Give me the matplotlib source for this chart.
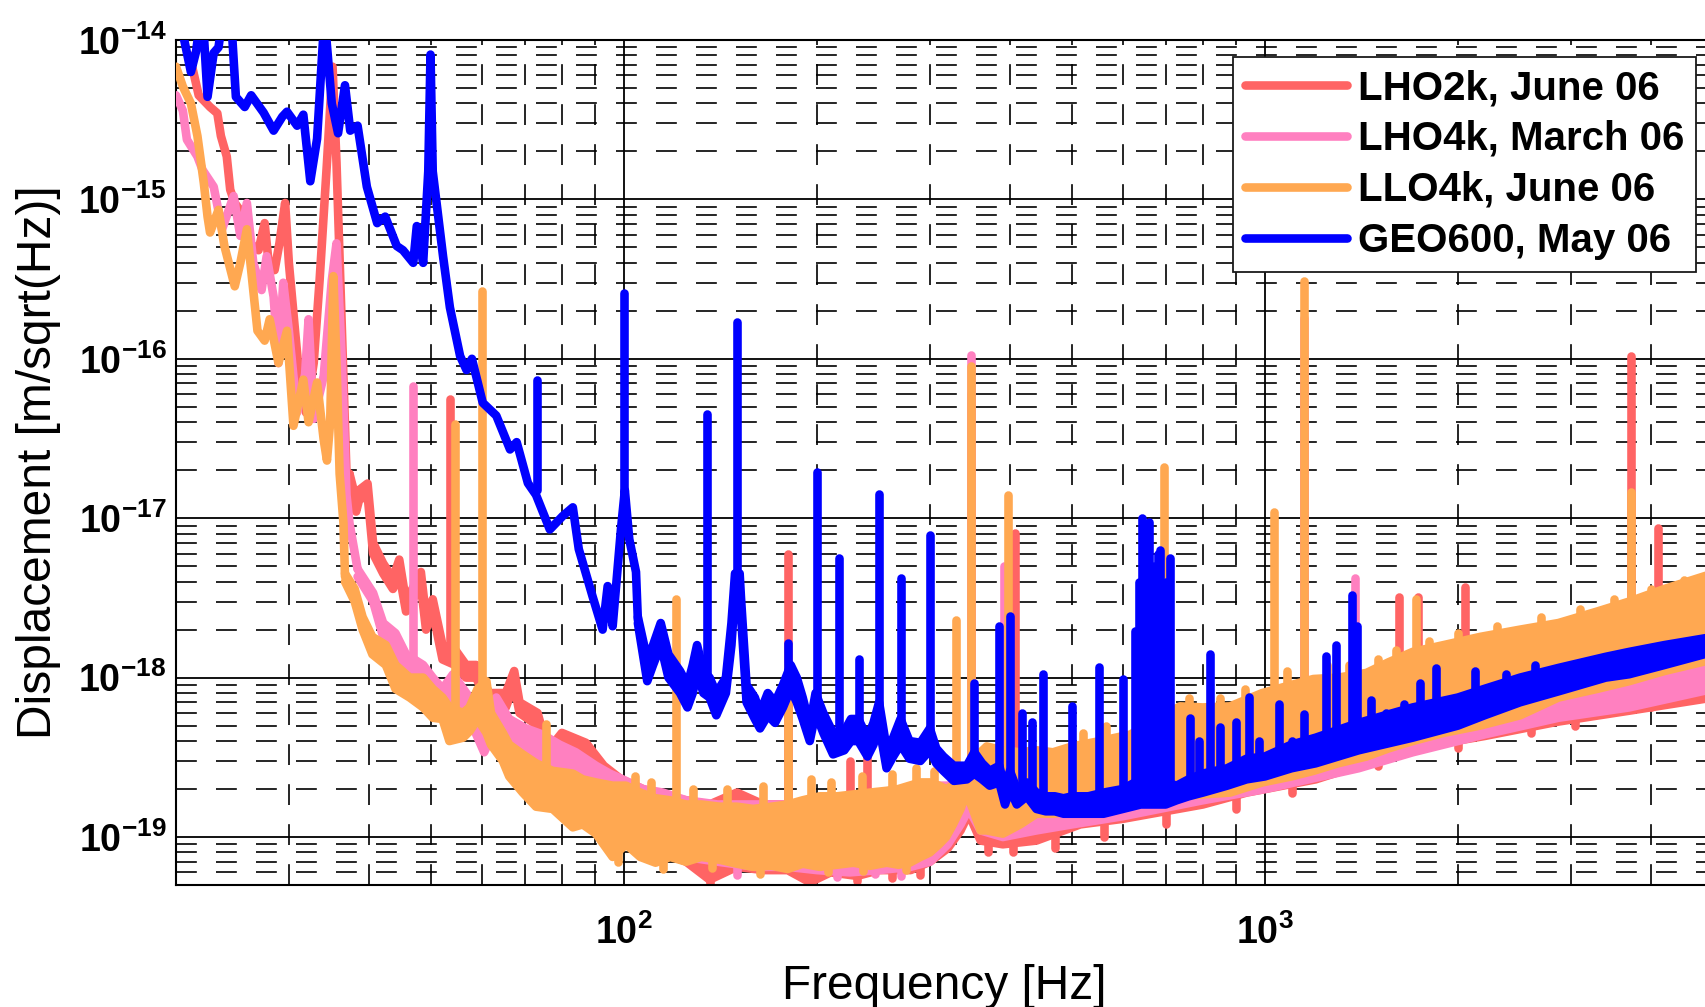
import matplotlib
matplotlib.use("Agg")
import matplotlib.pyplot as plt
from matplotlib.ticker import LogLocator, NullFormatter

# ---------------- data (frequency in Hz, displacement in m/sqrt(Hz)) ----------------
series_labels = ["LHO2k, June 06", "LHO4k, March 06", "LLO4k, June 06", "GEO600, May 06"]
series_colors = ["#FF6464", "#FF80C0", "#FFA851", "#0000FF"]

x_tick_values = [1e2, 1e3]
x_tick_labels = [r"$\mathbf{10^{2}}$", r"$\mathbf{10^{3}}$"]
y_tick_values = [1e-19, 1e-18, 1e-17, 1e-16, 1e-15, 1e-14]
y_tick_labels = [r"$\mathbf{10^{-19}}$", r"$\mathbf{10^{-18}}$", r"$\mathbf{10^{-17}}$",
                 r"$\mathbf{10^{-16}}$", r"$\mathbf{10^{-15}}$", r"$\mathbf{10^{-14}}$"]

# --- LHO2k (red) ---
lho2k_line = [(21.0, 8e-15), (21.7, 4.5e-15), (22.6, 3.8e-15), (23.2, 3.47e-15), (23.5, 2.5e-15),
              (24.0, 1.86e-15), (24.3, 1.15e-15), (24.7, 9.5e-16), (25.6, 7.8e-16), (26.1, 5.3e-16),
              (26.9, 4.8e-16), (27.5, 7.1e-16), (27.9, 4.0e-16), (28.5, 3.6e-16), (29.0, 5.3e-16),
              (29.6, 9.5e-16), (30.0, 4.0e-16), (31.0, 9.4e-17), (31.9, 4.6e-17), (32.8, 9.4e-17),
              (33.5, 3.1e-16), (34.4, 1.7e-15), (35.1, 6.8e-15), (35.6, 1.7e-15), (36.3, 1.5e-16),
              (36.9, 1.9e-17), (37.3, 1.9e-17)]
lho2k_band = [(37.3, 1.7e-17, 1.9e-17), (38.2, 1.1e-17, 1.3e-17), (38.6, 1.3e-17, 1.5e-17),
              (39.8, 1.4e-17, 1.65e-17), (40.6, 6e-18, 7e-18), (42.1, 4.5e-18, 5.2e-18),
              (43.6, 3.6e-18, 4.2e-18), (44.6, 4.5e-18, 5.5e-18), (45.7, 2.6e-18, 3.0e-18),
              (48.2, 3.8e-18, 4.6e-18), (49.1, 2.0e-18, 2.4e-18), (50.3, 2.6e-18, 3.1e-18),
              (52.1, 1.3e-18, 1.6e-18), (54.5, 1.2e-18, 1.5e-18), (56.7, 1.0e-18, 1.2e-18),
              (58.8, 1.0e-18, 1.2e-18), (61.6, 6.5e-19, 8e-19), (65.4, 6.5e-19, 8e-19),
              (67.4, 9e-19, 1.1e-18), (68.7, 6e-19, 7e-19), (73.3, 5e-19, 6e-19),
              (76.1, 1.6e-19, 3.5e-19), (80, 2.8e-19, 4.5e-19), (87.2, 2.2e-19, 3.9e-19),
              (93, 1.7e-19, 2.8e-19), (99, 1.3e-19, 2.3e-19), (107, 9e-20, 2.0e-19),
              (115, 8e-20, 1.8e-19), (125, 7e-20, 1.7e-19), (136, 5.4e-20, 1.6e-19),
              (150, 6.5e-20, 1.9e-19), (165, 6.2e-20, 1.6e-19), (180, 6.2e-20, 1.6e-19),
              (195, 5.2e-20, 1.6e-19), (210, 6e-20, 1.7e-19), (231, 5.7e-20, 1.7e-19),
              (250, 6.2e-20, 1.8e-19), (280, 6.2e-20, 1.9e-19), (300, 7e-20, 2.0e-19),
              (320, 8.5e-20, 2.0e-19), (335, 1.1e-19, 2.1e-19), (345, 1.4e-19, 2.3e-19),
              (360, 9.5e-20, 2.3e-19), (390, 9e-20, 2.2e-19), (440, 9.5e-20, 2.0e-19),
              (515, 1.2e-19, 2.0e-19), (600, 1.3e-19, 2.1e-19), (800, 1.6e-19, 2.6e-19),
              (936, 1.9e-19, 3.0e-19), (1200, 2.3e-19, 3.8e-19), (1700, 3.6e-19, 5.2e-19),
              (2200, 4.3e-19, 6.8e-19), (2870, 5.3e-19, 8.5e-19), (3700, 6.2e-19, 1.05e-18),
              (5000, 7.5e-19, 1.3e-18)]
# (frequency, start, end): narrow lines and noise excursions
lho2k_spikes = [(53.6, 1.4e-18, 5.6e-17), (180, 1.6e-19, 6.0e-18), (225, 1.7e-19, 3.0e-19),
                (239, 1.7e-19, 3.2e-19), (348, 2.3e-19, 6e-17), (408, 2.2e-19, 8.1e-18),
                (1150, 3.8e-19, 6.7e-17), (1620, 5e-19, 3.2e-18), (1730, 5.3e-19, 3.2e-18),
                (2050, 6.3e-19, 3.7e-18), (3720, 1.05e-18, 1.04e-16), (4100, 1.1e-18, 8.7e-18),
                (136, 1.0e-19, 5.0e-20), (195, 1.0e-19, 5.0e-20), (231, 1.0e-19, 5.3e-20),
                (262, 1.0e-19, 5.5e-20), (290, 1.1e-19, 5.8e-20), (370, 1.4e-19, 8e-20),
                (405, 1.4e-19, 8e-20), (470, 1.5e-19, 8.5e-20), (560, 1.7e-19, 1.0e-19),
                (700, 2.0e-19, 1.2e-19), (900, 2.4e-19, 1.5e-19), (1100, 3.0e-19, 1.9e-19),
                (1500, 4.0e-19, 2.8e-19), (2000, 5.0e-19, 3.6e-19), (2600, 6.5e-19, 4.5e-19),
                (3050, 7.5e-19, 5.0e-19), (4000, 9.0e-19, 6.5e-19)]

# --- LHO4k (pink) ---
lho4k_line = [(20.0, 4.5e-15), (20.5, 3.6e-15), (20.8, 2.37e-15), (21.6, 1.86e-15), (22.0, 1.53e-15),
              (22.9, 1.2e-15), (23.6, 6.5e-16), (24.6, 1.05e-15), (25.2, 5.9e-16), (25.8, 9.5e-16),
              (26.4, 4.0e-16), (27.2, 2.7e-16), (27.7, 4.4e-16), (28.4, 2.45e-16), (28.9, 9.4e-17),
              (29.4, 3.0e-16), (30.0, 1.5e-16), (30.9, 4.6e-17), (31.8, 8e-17), (32.2, 1.77e-16),
              (32.8, 4.2e-17), (34.0, 7.8e-17), (35.0, 3.1e-16), (35.6, 5.3e-16), (36.3, 9.4e-17),
              (36.9, 1.4e-17), (37.3, 9.3e-18), (38.4, 4.8e-18)]
lho4k_band = [(38.4, 4.3e-18, 4.8e-18), (40.6, 3.0e-18, 3.4e-18), (42.1, 1.8e-18, 2.2e-18),
              (44.0, 1.5e-18, 1.9e-18), (45.7, 1.1e-18, 1.4e-18), (48.6, 9e-19, 1.2e-18),
              (50.3, 8e-19, 1.0e-18), (52.1, 6.8e-19, 8.5e-19), (54.1, 7e-19, 1.05e-18),
              (57.4, 5.5e-19, 7.5e-19), (60.5, 3.4e-19, 5.5e-19), (63.2, 5e-19, 7.5e-19),
              (66.2, 4.0e-19, 5.5e-19), (70.3, 3.5e-19, 4.8e-19), (74.6, 3.0e-19, 4.4e-19),
              (79.3, 2.6e-19, 3.8e-19), (84.1, 2.3e-19, 3.4e-19), (90.4, 1.7e-19, 2.8e-19),
              (95, 1.4e-19, 2.5e-19), (99.5, 1.2e-19, 2.3e-19), (107, 8.8e-20, 2.0e-19),
              (115, 8e-20, 1.9e-19), (125, 7.5e-20, 1.7e-19), (140, 7e-20, 1.6e-19),
              (160, 6.5e-20, 1.6e-19), (180, 6.5e-20, 1.6e-19), (200, 6.2e-20, 1.7e-19),
              (225, 6.0e-20, 1.8e-19), (250, 6.2e-20, 1.9e-19), (280, 6.5e-20, 2.0e-19),
              (300, 7e-20, 2.1e-19), (320, 9e-20, 2.1e-19), (335, 1.2e-19, 2.2e-19),
              (345, 1.5e-19, 2.4e-19), (360, 1.1e-19, 2.5e-19), (390, 1.0e-19, 2.3e-19),
              (440, 1.1e-19, 2.2e-19), (500, 1.2e-19, 2.2e-19), (600, 1.35e-19, 2.3e-19),
              (800, 1.7e-19, 2.8e-19), (1000, 2.0e-19, 3.3e-19), (1400, 2.7e-19, 4.6e-19),
              (1700, 3.4e-19, 5.5e-19), (2200, 4.4e-19, 7.5e-19), (2870, 5.6e-19, 9.5e-19),
              (3700, 6.5e-19, 1.2e-18), (5000, 8.5e-19, 1.5e-18)]
lho4k_spikes = [(46.9, 1.2e-18, 6.8e-17), (348, 2.4e-19, 1.05e-16), (392, 2.3e-19, 5e-18),
                (1150, 4.2e-19, 1.8e-16), (1380, 4.5e-19, 4.2e-18),
                (150, 1.0e-19, 5.8e-20), (215, 1.0e-19, 5.6e-20), (246, 1.0e-19, 5.9e-20),
                (270, 1.0e-19, 5.7e-20), (1320, 4.0e-19, 3.0e-19), (2400, 7e-19, 5.0e-19)]

# --- LLO4k (orange) ---
llo4k_line = [(20.0, 6.8e-15), (20.5, 5.1e-15), (21.1, 4.0e-15), (21.6, 2.5e-15), (22.1, 1.27e-15),
              (22.4, 7.8e-16), (22.6, 6.2e-16), (23.3, 8.6e-16), (23.8, 5.1e-16), (24.7, 2.85e-16),
              (25.2, 4.0e-16), (25.8, 6.5e-16), (26.2, 3.6e-16), (26.8, 1.5e-16), (27.5, 1.3e-16),
              (28.0, 1.77e-16), (28.9, 9.4e-17), (29.8, 1.5e-16), (30.5, 3.8e-17), (31.6, 7.4e-17),
              (32.2, 4.0e-17), (33.2, 7.1e-17), (34.0, 3.1e-17), (34.4, 2.3e-17), (34.8, 4.0e-17),
              (35.2, 3.3e-16), (35.6, 9.4e-17), (36.0, 1.9e-17), (36.5, 9.3e-18), (36.7, 4.3e-18)]
llo4k_band = [(36.7, 4.0e-18, 4.5e-18), (38.0, 3.0e-18, 3.6e-18), (39.1, 2.0e-18, 2.4e-18),
              (40.5, 1.4e-18, 1.8e-18), (42.5, 1.2e-18, 1.6e-18), (44.0, 8.5e-19, 1.2e-18),
              (46.3, 7.5e-19, 1.0e-18), (48.6, 6.5e-19, 1.0e-18), (50.3, 5.6e-19, 8.5e-19),
              (52.1, 5.5e-19, 7.5e-19), (53.4, 4.0e-19, 6.5e-19), (56.1, 4.2e-19, 6.0e-19),
              (57.4, 4.6e-19, 6.5e-19), (59.1, 5.5e-19, 8.5e-19), (61.0, 4.5e-19, 9.5e-19),
              (62.0, 3.8e-19, 6.0e-19), (64.7, 3.0e-19, 4.5e-19), (66.2, 2.4e-19, 3.8e-19),
              (69.5, 1.9e-19, 3.3e-19), (72.9, 1.55e-19, 2.9e-19), (77.4, 1.5e-19, 2.6e-19),
              (83.2, 1.15e-19, 2.5e-19), (86.2, 1.2e-19, 2.3e-19), (90.4, 1.05e-19, 2.2e-19),
              (96.0, 7.5e-20, 2.1e-19), (100.7, 9.0e-20, 2.1e-19), (106, 7.5e-20, 1.9e-19),
              (112, 6.9e-20, 1.75e-19), (118, 7.5e-20, 1.7e-19), (125, 7.0e-20, 1.6e-19),
              (132, 7.5e-20, 1.6e-19), (141, 7.2e-20, 1.55e-19), (150, 6.8e-20, 1.55e-19),
              (159, 6.5e-20, 1.5e-19), (170, 6.6e-20, 1.55e-19), (180, 6.3e-20, 1.6e-19),
              (190, 6.8e-20, 1.7e-19), (202, 6.5e-20, 1.8e-19), (215, 6.7e-20, 1.8e-19),
              (228, 6.9e-20, 1.85e-19), (242, 6.6e-20, 1.9e-19), (257, 6.9e-20, 1.95e-19),
              (268, 6.7e-20, 2.0e-19), (279, 6.9e-20, 2.1e-19), (290, 7.5e-20, 2.2e-19),
              (300, 8.0e-20, 2.2e-19), (310, 9e-20, 2.1e-19), (318, 1.0e-19, 2.0e-19),
              (326, 1.2e-19, 2.1e-19), (335, 1.5e-19, 2.2e-19), (342, 1.9e-19, 2.3e-19),
              (350, 1.5e-19, 2.6e-19), (360, 1.1e-19, 3.4e-19), (368, 1.1e-19, 3.7e-19),
              (390, 1.05e-19, 3.5e-19), (415, 1.2e-19, 3.4e-19), (440, 1.4e-19, 3.5e-19),
              (467, 1.4e-19, 3.4e-19), (500, 1.45e-19, 3.7e-19), (553, 1.5e-19, 4.0e-19),
              (617, 1.6e-19, 4.4e-19), (680, 1.7e-19, 5.5e-19), (737, 1.8e-19, 6.6e-19),
              (800, 1.85e-19, 6.5e-19), (882, 1.9e-19, 6.6e-19), (990, 2.2e-19, 8.0e-19),
              (1100, 2.4e-19, 9e-19), (1190, 2.6e-19, 9.8e-19), (1300, 2.9e-19, 1.0e-18),
              (1440, 3.2e-19, 1.07e-18), (1560, 3.6e-19, 1.25e-18), (1700, 4.0e-19, 1.45e-18),
              (1900, 4.5e-19, 1.6e-18), (2165, 5.0e-19, 1.8e-18), (2500, 5.8e-19, 2.0e-18),
              (2870, 7.5e-19, 2.2e-18), (3300, 8.5e-19, 2.6e-18), (3700, 9.5e-19, 3.0e-18),
              (4200, 1.1e-18, 3.6e-18), (5000, 1.3e-18, 4.5e-18)]
llo4k_spikes = [(54.4, 5e-19, 3.9e-17), (60.0, 8e-19, 2.66e-16), (75.5, 2.6e-19, 5.1e-19),
                (120.5, 1.7e-19, 3.1e-18), (180, 1.6e-19, 1.2e-18), (330, 2.1e-19, 2.3e-18),
                (348, 2.5e-19, 9.0e-17), (397, 3.5e-19, 1.4e-17), (695, 5.5e-19, 2.1e-17),
                (1033, 8e-19, 1.1e-17), (1082, 8.5e-19, 1.1e-18), (1150, 9.5e-19, 3.06e-16),
                (1720, 1.45e-18, 3.1e-18), (3720, 3.0e-18, 1.45e-17),
                (104, 1.5e-19, 2.4e-19), (110, 1.5e-19, 2.2e-19), (128, 1.4e-19, 2.0e-19),
                (145, 1.4e-19, 2.0e-19), (165, 1.4e-19, 2.1e-19), (196, 1.5e-19, 2.3e-19),
                (210, 1.5e-19, 2.2e-19), (235, 1.6e-19, 2.4e-19), (262, 1.7e-19, 2.5e-19),
                (285, 1.8e-19, 2.7e-19), (305, 1.8e-19, 2.6e-19),
                (98, 1.2e-19, 7.0e-20), (115, 1.0e-19, 6.3e-20), (137, 1.0e-19, 6.4e-20),
                (163, 1.0e-19, 5.9e-20), (208, 1.0e-19, 6.0e-20), (236, 1.0e-19, 6.1e-20),
                (275, 1.0e-19, 6.2e-20),
                (520, 3.5e-19, 4.5e-19), (565, 3.8e-19, 5.0e-19), (760, 6.0e-19, 7.5e-19),
                (850, 6.0e-19, 7.5e-19), (930, 7.0e-19, 8.5e-19), (1250, 9.0e-19, 1.2e-18),
                (1350, 9.5e-19, 1.2e-18), (1500, 1.1e-18, 1.3e-18), (1600, 1.2e-18, 1.5e-18),
                (1800, 1.4e-18, 1.7e-18), (2000, 1.6e-18, 1.9e-18), (2300, 1.8e-18, 2.1e-18),
                (2700, 2.0e-18, 2.4e-18), (3100, 2.3e-18, 2.7e-18), (3500, 2.7e-18, 3.1e-18),
                (4000, 3.2e-18, 3.6e-18), (4500, 3.7e-18, 4.1e-18)]

# --- GEO600 (blue) ---
geo_line = [(20.0, 1.3e-14), (20.6, 1.0e-14), (21.1, 6.3e-15), (21.5, 8.5e-15), (21.8, 1.3e-14),
            (22.1, 1.1e-14), (22.4, 4.4e-15), (22.9, 8.3e-15), (23.3, 9.0e-15), (23.6, 1.3e-14),
            (24.4, 1.3e-14), (24.8, 4.4e-15), (25.6, 3.8e-15), (26.2, 4.5e-15), (27.4, 3.5e-15),
            (28.4, 2.7e-15), (29.3, 3.3e-15), (29.8, 3.55e-15), (30.9, 2.9e-15), (31.6, 3.4e-15),
            (32.4, 1.3e-15), (33.2, 2.4e-15), (33.8, 8.0e-15), (34.1, 1.4e-14), (34.5, 8.0e-15),
            (35.0, 4.0e-15), (35.8, 2.6e-15), (36.7, 5.2e-15), (37.4, 2.7e-15), (38.4, 2.9e-15),
            (39.7, 1.2e-15), (41.2, 7.1e-16), (42.4, 7.8e-16), (44.2, 5.1e-16), (45.2, 4.8e-16),
            (46.9, 4.0e-16), (47.5, 6.8e-16), (48.6, 4.0e-16), (49.5, 1.5e-15), (49.9, 8.1e-15),
            (50.3, 1.5e-15), (51.0, 9.5e-16), (52.2, 4.4e-16), (53.5, 2.1e-16), (55.5, 1.04e-16),
            (56.8, 8.5e-17), (57.9, 1.0e-16), (60.2, 5.3e-17), (63.2, 4.4e-17), (66.4, 2.7e-17),
            (68.0, 3.0e-17), (70.8, 1.66e-17), (72.9, 1.4e-17), (76.6, 8.5e-18), (80.2, 1.03e-17),
            (83.2, 1.17e-17), (85.0, 6.4e-18), (89.3, 3.24e-18), (92.6, 2.0e-18), (94.3, 3.75e-18),
            (96.0, 2.1e-18), (98.9, 8.5e-18), (100.3, 1.5e-17), (101.9, 7.4e-18), (104.4, 4.6e-18),
            (105.1, 2.3e-18)]
geo_band = [(105.1, 2.2e-18, 2.4e-18), (108.7, 9.5e-19, 1.3e-18), (111, 1.2e-18, 1.6e-18),
            (114.1, 1.6e-18, 2.2e-18), (117.3, 1.0e-18, 1.4e-18), (122.3, 8.0e-19, 1.1e-18),
            (125.6, 6.5e-19, 9.0e-19), (128, 8.0e-19, 1.2e-18), (130, 1.1e-18, 1.6e-18),
            (133, 8.0e-19, 1.1e-18), (136, 7.5e-19, 1.0e-18), (139.3, 5.8e-19, 8.0e-19),
            (144.2, 8.0e-19, 1.0e-18), (147.1, 1.6e-18, 2.2e-18), (149, 3.5e-18, 4.5e-18),
            (151.5, 3.5e-18, 4.5e-18), (152.2, 2.5e-18, 3.2e-18), (155.3, 7.0e-19, 9.0e-19),
            (160, 5.5e-19, 7.5e-19), (163, 4.8e-19, 6.0e-19), (167.6, 5.8e-19, 8.0e-19),
            (172, 5.2e-19, 7.0e-19), (177, 6.5e-19, 9.0e-19), (182, 8.5e-19, 1.2e-18),
            (186, 7.0e-19, 1.0e-18), (190, 5.5e-19, 7.5e-19), (194.9, 4.0e-19, 5.0e-19),
            (199, 6.0e-19, 8.0e-19), (204.6, 4.5e-19, 6.0e-19), (211.9, 3.3e-19, 4.5e-19),
            (220.6, 3.5e-19, 4.6e-19), (226, 4.0e-19, 5.5e-19), (232, 4.0e-19, 5.5e-19),
            (239.8, 3.2e-19, 4.2e-19), (245, 3.8e-19, 5.2e-19), (250, 5.0e-19, 7.0e-19),
            (256.8, 2.7e-19, 3.6e-19), (263, 3.2e-19, 4.2e-19), (270, 3.8e-19, 5.5e-19),
            (278.8, 3.1e-19, 4.0e-19), (290, 3.0e-19, 3.9e-19), (300, 3.5e-19, 4.8e-19),
            (307, 2.9e-19, 3.6e-19), (315, 2.6e-19, 3.2e-19), (327, 2.25e-19, 2.8e-19),
            (342.7, 2.3e-19, 2.8e-19), (352, 2.5e-19, 3.4e-19), (362, 2.3e-19, 2.9e-19),
            (372, 2.1e-19, 2.6e-19), (385, 2.2e-19, 2.8e-19), (393, 1.6e-19, 2.0e-19),
            (400, 2.0e-19, 2.6e-19), (410, 1.6e-19, 2.0e-19), (425, 1.8e-19, 2.2e-19),
            (440, 1.5e-19, 1.9e-19), (455, 1.45e-19, 1.8e-19), (470, 1.45e-19, 1.8e-19),
            (485, 1.4e-19, 1.75e-19), (500, 1.4e-19, 1.8e-19), (530, 1.4e-19, 1.8e-19),
            (560, 1.4e-19, 1.9e-19), (600, 1.5e-19, 2.0e-19), (640, 1.6e-19, 2.3e-19),
            (700, 1.6e-19, 2.2e-19), (728, 1.7e-19, 2.1e-19), (760, 1.8e-19, 2.3e-19),
            (800, 1.9e-19, 2.5e-19), (873, 2.1e-19, 2.7e-19), (936, 2.3e-19, 3.1e-19),
            (1000, 2.4e-19, 3.2e-19), (1100, 2.7e-19, 3.8e-19), (1200, 2.9e-19, 4.2e-19),
            (1400, 3.5e-19, 5.2e-19), (1700, 4.2e-19, 6.5e-19), (2000, 5.0e-19, 7.5e-19),
            (2200, 5.8e-19, 8.5e-19), (2500, 7.0e-19, 1.0e-18), (2870, 8.2e-19, 1.15e-18),
            (3400, 1.0e-18, 1.35e-18), (3700, 1.05e-18, 1.45e-18), (4200, 1.2e-18, 1.6e-18),
            (5000, 1.45e-18, 1.8e-18)]
geo_spikes = [(73.1, 1.5e-17, 7.4e-17), (100.0, 1.5e-17, 2.6e-16), (134.6, 9e-19, 4.5e-17),
              (150.2, 4e-18, 1.7e-16), (180, 1.1e-18, 1.65e-18), (199.8, 6e-19, 1.95e-17),
              (216.2, 4.5e-19, 5.6e-18), (232.5, 5e-19, 1.3e-18), (249.9, 6e-19, 1.41e-17),
              (270.5, 5e-19, 4.2e-18), (300.7, 4.5e-19, 7.9e-18), (351.3, 3e-19, 9.3e-19),
              (385, 2.6e-19, 2.1e-18), (400, 2.5e-19, 2.45e-18), (418, 2e-19, 6.0e-19),
              (433, 2e-19, 5.3e-19), (451, 1.8e-19, 1.05e-18), (500, 1.7e-19, 6.6e-19),
              (550, 1.8e-19, 1.17e-18), (600, 1.9e-19, 9.8e-19), (626, 2e-19, 1.95e-18),
              (636, 2e-19, 4e-18), (643, 2e-19, 1.0e-17), (652, 2e-19, 6e-18),
              (660, 2e-19, 9.4e-18), (670, 2e-19, 5e-18), (680, 2e-19, 6e-18),
              (687, 2e-19, 6.3e-18), (700, 2e-19, 4e-18), (711, 2e-19, 5.6e-18),
              (764, 2.2e-19, 5.6e-19), (790, 2.3e-19, 4e-19), (822, 2.4e-19, 1.4e-18),
              (850, 2.5e-19, 4.9e-19), (900, 2.7e-19, 5.3e-19), (944, 2.9e-19, 7.6e-19),
              (980, 3e-19, 4e-19), (1052, 3.3e-19, 6.8e-19), (1102, 3.5e-19, 4.0e-19),
              (1150, 3.7e-19, 5.9e-19), (1245, 4e-19, 1.36e-18), (1290, 4.1e-19, 1.6e-18),
              (1365, 4.6e-19, 3.3e-18), (1390, 4.7e-19, 2.1e-18), (1466, 5e-19, 7.2e-19),
              (1545, 5.3e-19, 6e-19), (1650, 5.8e-19, 6.8e-19), (1747, 6.2e-19, 9.3e-19),
              (1850, 6.6e-19, 1.15e-18), (2130, 7.5e-19, 1.1e-18), (2380, 8.5e-19, 1.05e-18),
              (2640, 9.5e-19, 1.2e-18)]

# ---------------- styling ----------------
plt.rcParams["font.family"] = ["Liberation Sans", "DejaVu Sans"]
plt.rcParams["mathtext.fontset"] = "custom"
plt.rcParams["mathtext.bf"] = "Liberation Sans:bold"
plt.rcParams["mathtext.rm"] = "Liberation Sans"
plt.rcParams["mathtext.it"] = "Liberation Sans:italic"

W, H = 1705, 1007
fig = plt.figure(figsize=(W / 100, H / 100), dpi=100)
ax = fig.add_axes([176 / W, 122 / H, 1537 / W, 845 / H])
ax.set_xscale("log")
ax.set_yscale("log")

LW = 6.2
all_series = [
    (lho2k_line, lho2k_band, lho2k_spikes),
    (lho4k_line, lho4k_band, lho4k_spikes),
    (llo4k_line, llo4k_band, llo4k_spikes),
    (geo_line, geo_band, geo_spikes),
]
handles = []
for i, (line, band, spikes) in enumerate(all_series):
    color = series_colors[i]
    z = 2 + i
    lf = [p[0] for p in line]
    la = [p[1] for p in line]
    bf = [p[0] for p in band]
    blo = [p[1] for p in band]
    bhi = [p[2] for p in band]
    sf = [p[0] for p in spikes]
    sb = [p[1] for p in spikes]
    st = [p[2] for p in spikes]
    h, = ax.plot(lf, la, color=color, lw=LW, zorder=z, solid_joinstyle="round",
                 solid_capstyle="round", label=series_labels[i])
    handles.append(h)
    ax.fill_between(bf, blo, bhi, color=color, lw=0, zorder=z)
    ax.plot(bf, bhi, color=color, lw=LW, zorder=z, solid_joinstyle="round", solid_capstyle="round")
    ax.plot(bf, blo, color=color, lw=LW, zorder=z, solid_joinstyle="round", solid_capstyle="round")
    ax.vlines(sf, sb, st, colors=color, lw=LW, zorder=z, capstyle="round")

ax.set_xlim(20, 5000)
ax.set_ylim(5e-20, 1e-14)

ax.xaxis.set_minor_locator(LogLocator(base=10, subs=range(2, 10), numticks=50))
ax.yaxis.set_minor_locator(LogLocator(base=10, subs=range(2, 10), numticks=50))
ax.xaxis.set_minor_formatter(NullFormatter())
ax.yaxis.set_minor_formatter(NullFormatter())
ax.set_xticks(x_tick_values, labels=x_tick_labels)
ax.set_yticks(y_tick_values, labels=y_tick_labels)
ax.tick_params(which="both", length=0)
ax.tick_params(axis="y", pad=7, labelsize=27)
ax.tick_params(axis="x", pad=21, labelsize=27)

ax.set_axisbelow(True)
ax.grid(True, which="major", color="k", lw=1.3, ls="-")
ax.grid(True, which="minor", color="k", lw=1.2, ls=(0, (12.5, 11.5)))
for s in ax.spines.values():
    s.set_linewidth(1.5)
    s.set_color("k")

ax.set_xlabel("Frequency [Hz]", fontsize=34.5)
ax.set_ylabel("Displacement [m/sqrt(Hz)]", fontsize=34.5)
ax.xaxis.set_label_coords(0.5, -0.093)
ax.yaxis.set_label_coords(-0.0745, 0.5)

leg = ax.legend(handles=handles, loc="upper right",
                bbox_to_anchor=(1696 / W, 1 - 57 / H), bbox_transform=fig.transFigure,
                prop={"family": "Liberation Sans", "weight": "bold", "size": 29},
                handlelength=2.55, handletextpad=0.25, borderpad=0.3, labelspacing=0.32,
                borderaxespad=0, fancybox=False, framealpha=1, edgecolor="0.1")
leg.get_frame().set_linewidth(1.3)
leg.set_zorder(10)

fig.savefig("out.png", dpi=100)
